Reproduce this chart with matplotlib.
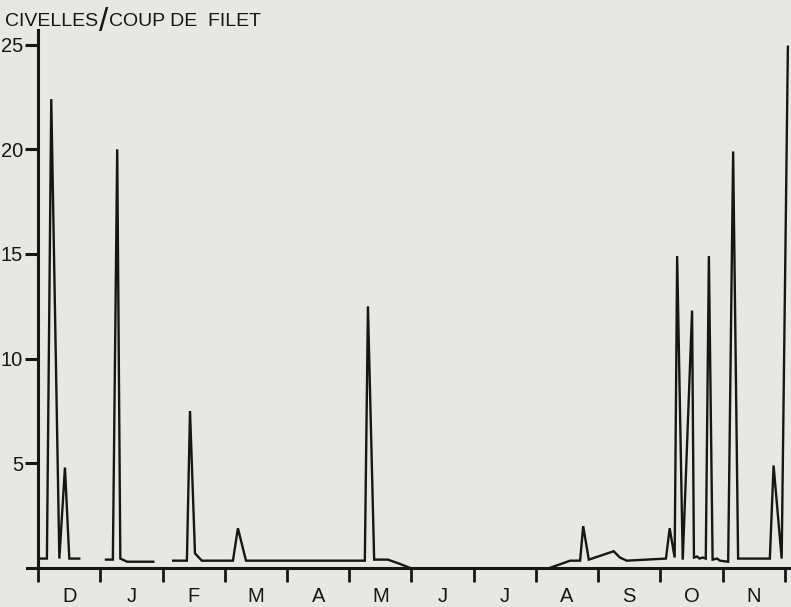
import numpy as np
import matplotlib.pyplot as plt

# === STYLE SETTINGS ===
plt.rcParams['font.family'] = ['Liberation Sans', 'DejaVu Sans']
paper = '#e7e8e3'
ink = '#161616'

# month axis labels (x in months since 1 December)
months = ['D', 'J', 'F', 'M', 'A', 'M', 'J', 'J', 'A', 'S', 'O', 'N']
y_ticks = [5, 10, 15, 20, 25]

# civelles per net haul, one list per drawn segment
dec_x = [0.03, 0.14, 0.21, 0.34, 0.43, 0.50, 0.66]
dec_y = [0.45, 0.45, 22.4, 0.45, 4.8, 0.45, 0.45]

jan_x = [1.09, 1.20, 1.27, 1.32, 1.43, 1.85]
jan_y = [0.40, 0.40, 20.0, 0.45, 0.30, 0.30]

feb_may_x = [2.17, 2.39, 2.44, 2.52, 2.63, 3.13, 3.21, 3.34, 5.25, 5.30,
             5.40, 5.62, 5.81, 5.98]
feb_may_y = [0.35, 0.35, 7.5, 0.7, 0.35, 0.35, 1.9, 0.35, 0.35, 12.5,
             0.40, 0.40, 0.20, 0.0]

aug_nov_x = [8.22, 8.55, 8.71, 8.76, 8.85, 9.25, 9.35, 9.46, 10.09, 10.15,
             10.23, 10.27, 10.36, 10.51, 10.54, 10.59, 10.63, 10.68, 10.73,
             10.78, 10.84, 10.91, 10.96, 11.09, 11.17, 11.25, 11.76, 11.82,
             11.95, 12.05]
aug_nov_y = [0.0, 0.35, 0.35, 2.0, 0.4, 0.8, 0.5, 0.35, 0.45, 1.9,
             0.5, 14.9, 0.4, 12.3, 0.5, 0.55, 0.45, 0.5, 0.45,
             14.9, 0.4, 0.45, 0.35, 0.3, 19.9, 0.45, 0.45, 4.9,
             0.45, 24.9]

segments = [(dec_x, dec_y), (jan_x, jan_y), (feb_may_x, feb_may_y),
            (aug_nov_x, aug_nov_y)]

# === FIGURE ===
fig = plt.figure(figsize=(7.91, 6.07), dpi=100, facecolor=paper)
ax = fig.add_axes([27 / 791, 39 / 607, 764 / 791, 538 / 607])
ax.set_facecolor(paper)

for xs, ys in segments:
    ax.plot(xs, ys, color=ink, linewidth=1.7, solid_joinstyle='miter',
            clip_on=False)

ax.set_xlim(-0.18, 12.1)
ax.set_ylim(0, 25.7)

# axes drawn like the hand-inked original
for side in ['top', 'right']:
    ax.spines[side].set_visible(False)
ax.spines['left'].set_position(('data', 0))
for side in ['left', 'bottom']:
    ax.spines[side].set_linewidth(2.2)
    ax.spines[side].set_color(ink)

ax.set_xticks(np.arange(0, 13))
ax.set_xticklabels([])
ax.tick_params(axis='x', which='major', direction='out', length=10,
               width=2.0, color=ink)
ax.set_xticks(np.arange(12) + 0.5, minor=True)
ax.set_xticklabels(months, minor=True, fontsize=14.5, color=ink)
ax.tick_params(axis='x', which='minor', length=0, pad=14)

ax.set_yticks(y_ticks)
ax.set_yticklabels([str(v) for v in y_ticks], fontsize=14.5, color=ink)
ax.tick_params(axis='y', direction='out', length=9.5, width=2.2, color=ink,
               pad=1.5)

# title with the tall hand-drawn slash
renderer = fig.canvas.get_renderer()
base_y = 1 - 26 / 607
x_px = 5
for piece, size, drop in [('CIVELLES', 14, 0), ('/', 24, 5),
                          ('COUP DE  FILET', 14, 0)]:
    t = fig.text(x_px / 791, base_y - drop / 607, piece, fontsize=size,
                 color=ink, ha='left', va='baseline')
    bb = t.get_window_extent(renderer)
    x_px = bb.x1 + 1

fig.savefig('out.png', dpi=100, facecolor=paper)
